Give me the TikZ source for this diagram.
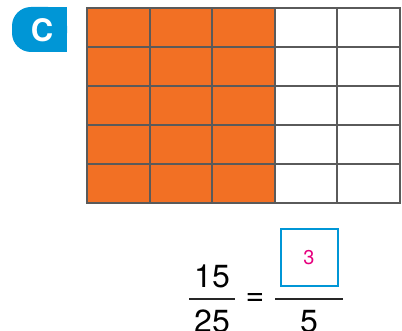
\documentclass[tikz,border=0pt]{standalone}
\usepackage{fontspec}
\setmainfont{TeX Gyre Heros}
\usepackage{tikz}
\usetikzlibrary{positioning, calc}
\definecolor{myorange}{RGB}{242,112,36}
\definecolor{mygrid}{RGB}{90,90,90}
\definecolor{myblue}{RGB}{0,150,214}
\definecolor{mymagenta}{RGB}{230,0,126}
\tikzset{
  cell/.style={draw=mygrid, line width=1.9pt},
  shaded/.style={cell, fill=myorange},
  digit/.style={font=\fontsize{32}{32}\selectfont, inner sep=0pt},
  bar/.style={line width=2.2pt, color=black!85},
  answerbox/.style={draw=myblue, line width=2pt, minimum width=57pt,
    minimum height=57pt, inner sep=0pt, text=mymagenta,
    font=\fontsize{20}{20}\selectfont}
}
\begin{document}
\begin{tikzpicture}[x=1pt, y=-1pt]
  \useasboundingbox (0,0) rectangle (402,331);
  % badge: rounded on the left, square on the right
  \fill[myblue, rounded corners=19pt] (12,7) rectangle (67,52);
  \fill[myblue] (40,7) rectangle (67,52);
  \node[text=white, font=\fontsize{31}{31}\selectfont\bfseries] (badge) at (42,30) {C};
  % grid: 5 x 5, first three columns shaded
  \foreach \c in {0,...,4} {
    \foreach \r in {0,...,4} {
      \ifnum\c<3
        \draw[shaded] ({87+62.6*\c},{8+39*\r}) rectangle ++(62.6,39);
      \else
        \draw[cell] ({87+62.6*\c},{8+39*\r}) rectangle ++(62.6,39);
      \fi
    }
  }
  % left fraction
  \node[digit, anchor=south] (num) at (212,288) {15};
  \draw[bar] (189,299) -- (235,299);
  \node[digit, anchor=north] (den) at (212,310) {25};
  \node[digit] (eq) at (255,300) {=};
  % right fraction
  \node[answerbox] (ans) at (309,258) {3};
  \draw[bar] (275,299) -- (343,299);
  \node[digit, anchor=north] (five) at (309,310) {5};
\end{tikzpicture}
\end{document}
